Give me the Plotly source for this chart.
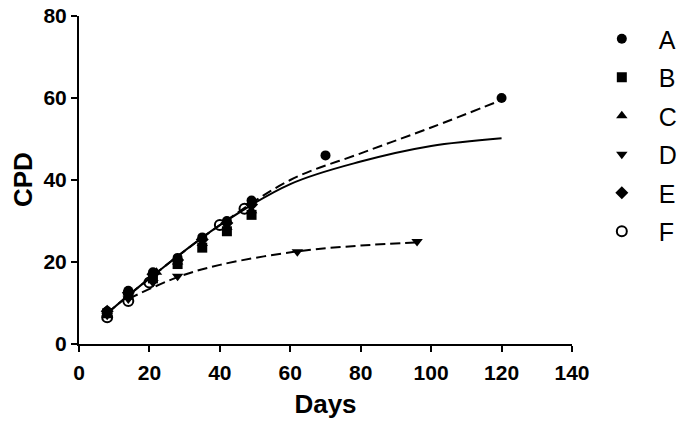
import plotly.graph_objects as go

# Measured points per group
a_days = [8, 14, 21, 28, 35, 42, 49, 70, 120]
a_cpd = [8, 13, 17.5, 21, 26, 30, 35, 46, 60]
b_days = [8, 14, 21, 28, 35, 42, 49]
b_cpd = [7.5, 12, 16, 19.5, 23.5, 27.5, 31.5]
c_days = [8, 14, 22, 28, 35, 42, 49]
c_cpd = [8, 12.5, 17.5, 20, 24.5, 28.5, 32.5]
d_days = [8, 14, 21, 28, 62, 96]
d_cpd = [7, 11, 15, 16.5, 22.5, 25]
e_days = [8, 14, 21, 28, 35, 42, 49]
e_cpd = [8, 12.5, 17, 20.5, 25.5, 29.5, 34]
f_days = [8, 14, 20, 40, 47]
f_cpd = [6.5, 10.5, 15, 29, 33]

# Fitted curves
fit_days = [8, 20, 40, 60, 80, 100, 120]
fit_all = [7.5, 16, 29, 39, 44.5, 48.3, 50.2]
fit_a = [7.5, 16, 29, 40, 46.5, 52.8, 59.5]
fit_d_days = [14, 28, 40, 62, 80, 96]
fit_d = [11, 16.3, 19.3, 22.6, 24, 24.8]

groups = [
    ("A", a_days, a_cpd, "circle"),
    ("B", b_days, b_cpd, "square"),
    ("C", c_days, c_cpd, "triangle-up"),
    ("D", d_days, d_cpd, "triangle-down"),
    ("E", e_days, e_cpd, "diamond"),
    ("F", f_days, f_cpd, "circle-open"),
]

FONT = "Liberation Sans, Arial"

fig = go.Figure()

line_style = dict(color="black", width=2, shape="spline")
dashed = dict(line_style, dash="10px,5px")
fig.add_trace(go.Scatter(x=fit_days, y=fit_all, mode="lines", line=line_style, showlegend=False))
fig.add_trace(go.Scatter(x=fit_days, y=fit_a, mode="lines", line=dashed, showlegend=False))
fig.add_trace(go.Scatter(x=fit_d_days, y=fit_d, mode="lines", line=dashed, showlegend=False))

for name, xs, ys, sym in groups:
    fig.add_trace(go.Scatter(
        x=xs, y=ys, mode="markers", name=name, legendgroup=name,
        marker=dict(symbol=sym, size=10, color="black",
                    line=dict(color="black", width=2 if sym == "circle-open" else 0)),
    ))

axis_common = dict(
    showline=True, linecolor="black", linewidth=2, showgrid=False, zeroline=False,
    ticks="outside", ticklen=6, tickwidth=2, tickcolor="black", automargin=False,
    ticklabeloverflow="allow",
    tickfont=dict(family=FONT, size=21, color="black", weight="bold"),
)

fig.update_xaxes(range=[0, 140], dtick=20, ticklabelstandoff=3,
                 title=dict(text="Days", font=dict(family=FONT, size=26,
                                                    color="black", weight="bold"), standoff=12),
                 **axis_common)
fig.update_yaxes(range=[0, 80], dtick=20, **axis_common)

# y title as an annotation so it can sit near the left edge like the original
fig.add_annotation(text="CPD", textangle=-90, xref="paper", yref="paper",
                   x=0, y=0.5, xanchor="center", yanchor="middle", xshift=-56,
                   showarrow=False,
                   font=dict(family=FONT, size=26, color="black", weight="bold"))

# page has an 8px body margin, so the figure sits 8px right/down
fig.update_layout(
    width=686, height=429,
    margin=dict(l=71, r=122, t=8, b=93, autoexpand=False),
    plot_bgcolor="white", paper_bgcolor="white",
    legend=dict(x=1.026, y=1.0, xanchor="left", yanchor="top",
                font=dict(family=FONT, size=25, color="black"),
                itemsizing="trace", itemwidth=64, tracegroupgap=3,
                bgcolor="rgba(0,0,0,0)"),
)

fig.write_html("out.html")
